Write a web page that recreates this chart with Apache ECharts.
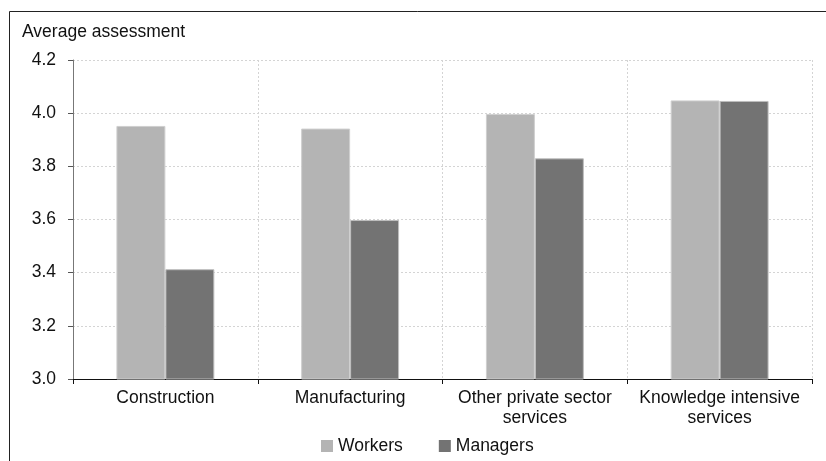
<!DOCTYPE html>
<html>
<head>
<meta charset="utf-8">
<script src="https://cdn.jsdelivr.net/npm/echarts@6/dist/echarts.min.js"></script>
<style>
  html, body { margin: 0; padding: 0; background: #fff; }
  #chart { width: 826px; height: 461px; }
</style>
</head>
<body>
<div id="chart"></div>
<script>
// Sector categories (x axis)
const categories = [
  'Construction',
  'Manufacturing',
  'Other private sector\nservices',
  'Knowledge intensive\nservices'
];

// Average assessment per group
const workers  = [3.952, 3.942, 3.997, 4.048];
const managers = [3.413, 3.598, 3.830, 4.046];

// Y axis range and step
const yMin = 3.0;
const yMax = 4.2;
const yStep = 0.2;

const FONT = '"Liberation Sans", Arial, sans-serif';
const FS = 17.5;

const chart = echarts.init(document.getElementById('chart'), null, { renderer: 'canvas' });

chart.setOption({
  animation: false,
  backgroundColor: '#ffffff',
  textStyle: { fontFamily: FONT },
  graphic: [
    // outer frame (left and top edges)
    {
      type: 'polyline',
      shape: { points: [[9.5, 461], [9.5, 11.5], [826, 11.5]] },
      style: { stroke: '#222', lineWidth: 1, fill: null },
      silent: true
    },
    {
      type: 'text',
      left: 22,
      top: 23,
      style: { text: 'Average assessment', font: FS + 'px ' + FONT, fill: '#111' }
    }
  ],
  grid: { left: 73, right: 14, top: 60, bottom: 82, containLabel: false },
  legend: {
    data: ['Workers', 'Managers'],
    top: 437,
    left: 321,
    padding: 0,
    itemWidth: 12,
    itemHeight: 12,
    itemGap: 36,
    icon: 'rect',
    itemStyle: { borderWidth: 0 },
    textStyle: { fontSize: FS, color: '#111', fontFamily: FONT, padding: [0, 0, 0, 0] }
  },
  xAxis: {
    type: 'category',
    data: categories,
    axisLine: { lineStyle: { color: '#111', width: 1 } },
    axisTick: { show: true, alignWithLabel: false, length: 5, lineStyle: { color: '#111' } },
    axisLabel: { fontSize: FS, color: '#111', fontFamily: FONT, margin: 9, lineHeight: 20, interval: 0 },
    splitLine: { show: true, lineStyle: { color: '#d4d4d4', type: [2, 2], width: 1 } }
  },
  yAxis: {
    type: 'value',
    min: yMin,
    max: yMax,
    interval: yStep,
    axisLine: { show: true, lineStyle: { color: '#777', width: 1 } },
    axisTick: { show: true, length: 5, lineStyle: { color: '#555' } },
    axisLabel: {
      fontSize: FS, color: '#111', fontFamily: FONT, margin: 17,
      formatter: v => v.toFixed(1)
    },
    splitLine: { show: true, lineStyle: { color: '#d4d4d4', type: [2, 2], width: 1 } }
  },
  series: [
    {
      name: 'Workers',
      type: 'bar',
      data: workers,
      barGap: '0%',
      barCategoryGap: '47%',
      itemStyle: { color: '#b4b4b4', borderColor: '#cfcfcf', borderWidth: 1 }
    },
    {
      name: 'Managers',
      type: 'bar',
      data: managers,
      itemStyle: { color: '#737373', borderColor: '#bdbdbd', borderWidth: 1 }
    }
  ]
});
</script>
</body>
</html>
